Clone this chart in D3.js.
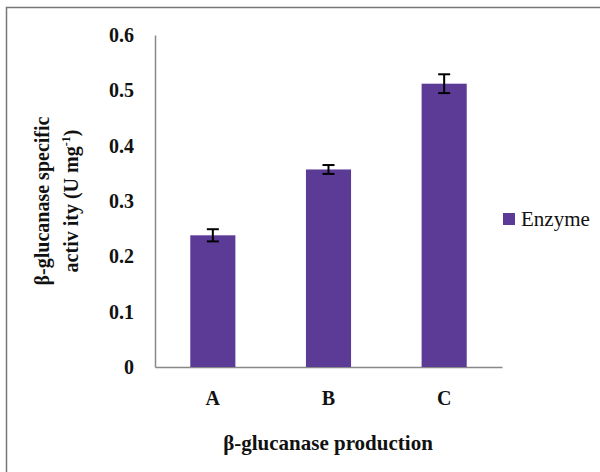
<!DOCTYPE html>
<html lang="en">
  <head>
    <meta charset="UTF-8" />
    <title>beta-glucanase</title>
    <script src="https://d3js.org/d3.v7.min.js"></script>
    <style>
      body { margin: 0; background: #fff; }
      svg text { font-family: "Liberation Serif", "Times New Roman", serif; }
    </style>
  </head>
  <body>
    <div id="graph"></div>
    <script>
      // data
      const categories = ["A", "B", "C"];
      const activity = [0.238, 0.357, 0.512];
      const errors = [0.011, 0.008, 0.017];
      const yTicks = [0, 0.1, 0.2, 0.3, 0.4, 0.5, 0.6];
      const seriesName = "Enzyme";

      const W = 600, H = 472;
      var margin = { top: 35, right: 98, bottom: 105, left: 155 },
        width = W - margin.left - margin.right,
        height = H - margin.top - margin.bottom;

      const barColor = "#5b3b96";

      var root = d3.select("#graph").append("svg")
        .attr("width", W).attr("height", H);

      // frame around the figure (only top and left show)
      root.append("path")
        .attr("d", "M6.5,472V7.5H600")
        .attr("fill", "none").attr("stroke", "#777").attr("stroke-width", 1.5);

      var svg = root.append("g")
        .attr("transform", "translate(" + margin.left + "," + margin.top + ")");

      const x = d3.scaleBand()
        .domain(categories)
        .range([0, width])
        .paddingInner(0.61)
        .paddingOuter(0.305);

      const y = d3.scaleLinear().domain([0, 0.6]).range([height, 0]);

      // y axis: line only, labels to the left
      const yAxis = svg.append("g")
        .call(d3.axisLeft(y).tickValues(yTicks).tickSize(0).tickPadding(21)
          .tickFormat((d) => d === 0 ? "0" : d3.format(".1f")(d)));
      yAxis.select(".domain").attr("stroke", "#888").attr("stroke-width", 1.5);
      yAxis.selectAll("text")
        .style("font-size", "20px").style("font-weight", "bold").attr("fill", "#111");

      // x axis
      const xAxis = svg.append("g")
        .attr("transform", `translate(0, ${height})`)
        .call(d3.axisBottom(x).tickSize(0).tickPadding(24).tickSizeOuter(0));
      xAxis.select(".domain").attr("stroke", "#888").attr("stroke-width", 1.5);
      xAxis.selectAll("text")
        .style("font-size", "20px").style("font-weight", "bold").attr("fill", "#111");

      const rows = categories.map((c, i) => ({ cat: c, value: activity[i], err: errors[i] }));

      svg.selectAll("rect.bar")
        .data(rows)
        .enter()
        .append("rect")
        .attr("class", "bar")
        .attr("x", (d) => x(d.cat))
        .attr("y", (d) => y(d.value))
        .attr("width", x.bandwidth())
        .attr("height", (d) => height - y(d.value))
        .attr("fill", barColor);

      // error bars
      var eb = svg.selectAll("g.err").data(rows).enter().append("g")
        .attr("class", "err")
        .attr("stroke", "#000").attr("stroke-width", 2);
      eb.append("line")
        .attr("x1", (d) => x(d.cat) + x.bandwidth() / 2)
        .attr("x2", (d) => x(d.cat) + x.bandwidth() / 2)
        .attr("y1", (d) => y(d.value + d.err))
        .attr("y2", (d) => y(d.value - d.err));
      eb.selectAll("line.cap")
        .data((d) => [d.value + d.err, d.value - d.err].map((v) => ({ cat: d.cat, v: v })))
        .enter().append("line")
        .attr("class", "cap")
        .attr("x1", (d) => x(d.cat) + x.bandwidth() / 2 - 6)
        .attr("x2", (d) => x(d.cat) + x.bandwidth() / 2 + 6)
        .attr("y1", (d) => y(d.v))
        .attr("y2", (d) => y(d.v));

      // x title
      root.append("text")
        .attr("x", 328)
        .attr("y", 450)
        .attr("text-anchor", "middle")
        .style("font-size", "21px").style("font-weight", "bold")
        .attr("fill", "#111")
        .text("β-glucanase production");

      // y title, two lines
      var yt = root.append("text")
        .attr("transform", "translate(49,201) rotate(-90)")
        .attr("text-anchor", "middle")
        .style("font-size", "20px").style("font-weight", "bold")
        .attr("fill", "#111");
      yt.append("tspan").attr("x", 0).attr("y", 0).text("β-glucanase specific");
      yt.append("tspan").attr("x", 0).attr("y", 29).text("activ ity (U mg");
      yt.append("tspan").attr("dy", -8).style("font-size", "12px").text("-1");
      yt.append("tspan").attr("dy", 8).text(")");

      // legend
      var lg = root.append("g").attr("transform", "translate(503,213)");
      lg.append("rect").attr("width", 12).attr("height", 12).attr("fill", barColor);
      lg.append("text").attr("x", 18).attr("y", 13)
        .style("font-size", "21px").attr("fill", "#111").text(seriesName);
    </script>
  </body>
</html>
